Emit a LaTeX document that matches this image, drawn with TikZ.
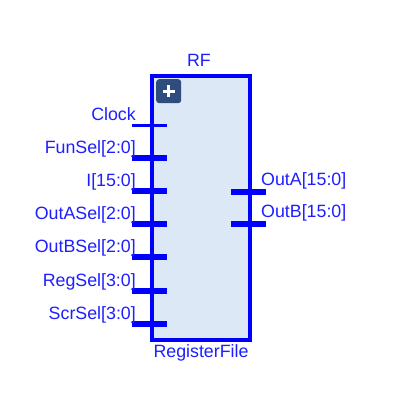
\documentclass[tikz,border=0pt]{standalone}
\usepackage{fontspec}
\setmainfont{Liberation Sans}
\definecolor{pinblue}{HTML}{0000FF}
\definecolor{txtblue}{HTML}{1E1EFF}
\definecolor{boxfill}{HTML}{DDE8F7}
\definecolor{iconblue}{HTML}{2F4C7E}
\tikzset{
  lbl/.style={text=txtblue, font=\fontsize{17.8}{20}\selectfont, inner sep=0pt},
  busline/.style={draw=pinblue, line width=5.5pt},
  wire/.style={draw=pinblue, line width=3pt},
}
\begin{document}
\begin{tikzpicture}[x=1pt,y=-1pt]
\useasboundingbox (0,0) rectangle (407,402);
% box
\node[draw=pinblue, fill=boxfill, line width=3.8pt, minimum width=98pt, minimum height=264pt, inner sep=0pt, anchor=north west] (rf) at (150,74) {};
% icon
\node[fill=iconblue, rounded corners=3pt, minimum width=25pt, minimum height=24pt, inner sep=0pt, anchor=north west] (icon) at (156,79) {};
\draw[white, line width=3pt] ([xshift=-6pt]icon.center) -- ([xshift=6pt]icon.center);
\draw[white, line width=3pt] ([yshift=-6pt]icon.center) -- ([yshift=6pt]icon.center);
% titles
\node[lbl] (title) at (199,60) {RF};
\node[lbl] (name) at (201,353) {RegisterFile};
% left pins
\foreach \nm/\yy/\txt/\st in {clk/125/Clock/wire, fun/158/{FunSel[2:0]}/busline, inp/191/{I[15:0]}/busline, oas/224/{OutASel[2:0]}/busline, obs/257/{OutBSel[2:0]}/busline, reg/291/{RegSel[3:0]}/busline, scr/324/{ScrSel[3:0]}/busline}{
  \coordinate (\nm a) at (132,\yy);
  \coordinate (\nm b) at (167,\yy);
  \draw[\st] (\nm a) -- (\nm b);
  \node[lbl, anchor=base east] (\nm l) at (136,\yy-5) {\txt};
}
% right pins
\foreach \nm/\yy/\txt in {oa/192/{OutA[15:0]}, ob/224/{OutB[15:0]}}{
  \coordinate (\nm a) at (231,\yy);
  \coordinate (\nm b) at (266,\yy);
  \draw[busline] (\nm a) -- (\nm b);
  \node[lbl, anchor=base west] (\nm l) at (261,\yy-7) {\txt};
}
\end{tikzpicture}
\end{document}
